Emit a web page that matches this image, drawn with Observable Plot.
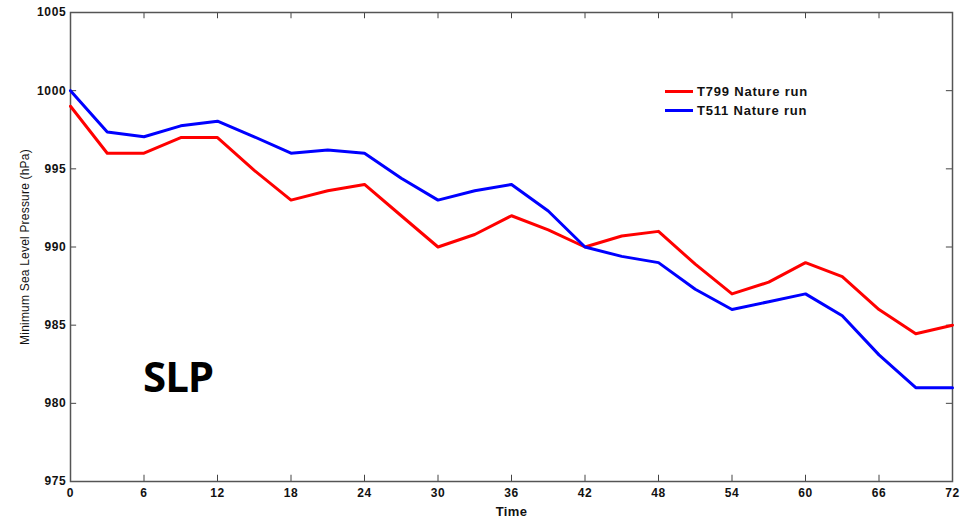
<!DOCTYPE html>
<html>
<head>
<meta charset="utf-8">
<script src="https://cdn.jsdelivr.net/npm/d3@7"></script>
<script src="https://cdn.jsdelivr.net/npm/@observablehq/plot@0.6"></script>
<style>
  html, body { margin: 0; padding: 0; background: #fff; }
  #wrap { position: relative; width: 961px; height: 521px; }
  #wrap svg { font-family: "Liberation Sans", Arial, sans-serif; }
  g[aria-label="x-axis tick label"] text, g[aria-label="y-axis tick label"] text {
    font-weight: bold; font-size: 12px; letter-spacing: 0.7px; fill: #111;
  }
  g[aria-label="x-axis label"] text { font-weight: bold; font-size: 13px; letter-spacing: 0.4px; fill: #111; }
  g[aria-label="y-axis label"] text { font-size: 12px; letter-spacing: 0.2px; fill: #111; }
  .leg { position: absolute; font: bold 13px "Liberation Sans", Arial, sans-serif; color: #111; letter-spacing: 0.8px; }
  .leg span.sw { position: absolute; width: 28px; height: 3px; }
  .slp { position: absolute; font: bold 42px "Open Sans", sans-serif; color: #000; letter-spacing: -1px; }
</style>
</head>
<body>
<div id="wrap"></div>
<script>
const times = [0,3,6,9,12,15,18,21,24,27,30,33,36,39,42,45,48,51,54,57,60,63,66,69,72];
const t799 = [999,996,996,997,997,994.9,993,993.6,994,992,990,990.8,992,991.1,990,990.7,991,988.9,987,987.75,989,988.1,986,984.45,985];
const t511 = [1000,997.35,997.05,997.75,998.05,997.05,996,996.2,996,994.4,993,993.6,994,992.3,990,989.4,989,987.3,986,986.5,987,985.6,983.1,981,981];
const seriesNames = ["T799 Nature run", "T511 Nature run"];
const seriesColors = ["#ff0000", "#0000ff"];
const xTicks = [0,6,12,18,24,30,36,42,48,54,60,66,72];
const yTicks = [975,980,985,990,995,1000,1005];

const rows = [];
times.forEach((t, i) => {
  rows.push({t, v: t799[i], s: seriesNames[0]});
  rows.push({t, v: t511[i], s: seriesNames[1]});
});

const xMin = 0, xMax = 72, yMin = 975, yMax = 1005;
// inward tick length expressed in data units (≈6px)
const xTickLen = 0.4;   // hPa
const yTickLen = 0.5;   // hours

const chart = Plot.plot({
  width: 961,
  height: 521,
  marginLeft: 70,
  marginRight: 9,
  marginTop: 12,
  marginBottom: 40,
  style: {color: "#333", background: "#fff"},
  x: {domain: [xMin, xMax]},
  y: {domain: [yMin, yMax]},
  color: {domain: seriesNames, range: seriesColors},
  marks: [
    Plot.axisX(xTicks, {tickSize: 0, tickPadding: 7, tickFormat: "d", label: "Time", labelAnchor: "center", labelOffset: 34, labelArrow: "none"}),
    Plot.axisY(yTicks, {tickSize: 0, tickPadding: 4, tickFormat: "d", label: "Minimum Sea Level Pressure (hPa)", labelAnchor: "center", labelOffset: 50, labelArrow: "none"}),
    Plot.ruleX(xTicks, {x: d => d, y1: yMin, y2: yMin + xTickLen, stroke: "#444"}),
    Plot.ruleX(xTicks, {x: d => d, y1: yMax, y2: yMax - xTickLen, stroke: "#444"}),
    Plot.ruleY(yTicks, {y: d => d, x1: xMin, x2: xMin + yTickLen, stroke: "#444"}),
    Plot.ruleY(yTicks, {y: d => d, x1: xMax, x2: xMax - yTickLen, stroke: "#444"}),
    Plot.frame({stroke: "#555", strokeWidth: 1.5}),
    Plot.line(rows, {x: "t", y: "v", z: "s", stroke: "s", strokeWidth: 3})
  ]
});
const wrap = document.getElementById("wrap");
wrap.appendChild(chart);

// legend
seriesNames.forEach((name, i) => {
  const d = document.createElement("div");
  d.className = "leg";
  d.style.left = "697px";
  d.style.top = (84 + i * 19) + "px";
  d.textContent = name;
  const sw = document.createElement("span");
  sw.className = "sw";
  sw.style.background = seriesColors[i];
  sw.style.left = "-32px";
  sw.style.top = "6px";
  d.appendChild(sw);
  wrap.appendChild(d);
});
const slp = document.createElement("div");
slp.className = "slp";
slp.style.left = "143px";
slp.style.top = "347px";
slp.textContent = "SLP";
wrap.appendChild(slp);
</script>
</body>
</html>
